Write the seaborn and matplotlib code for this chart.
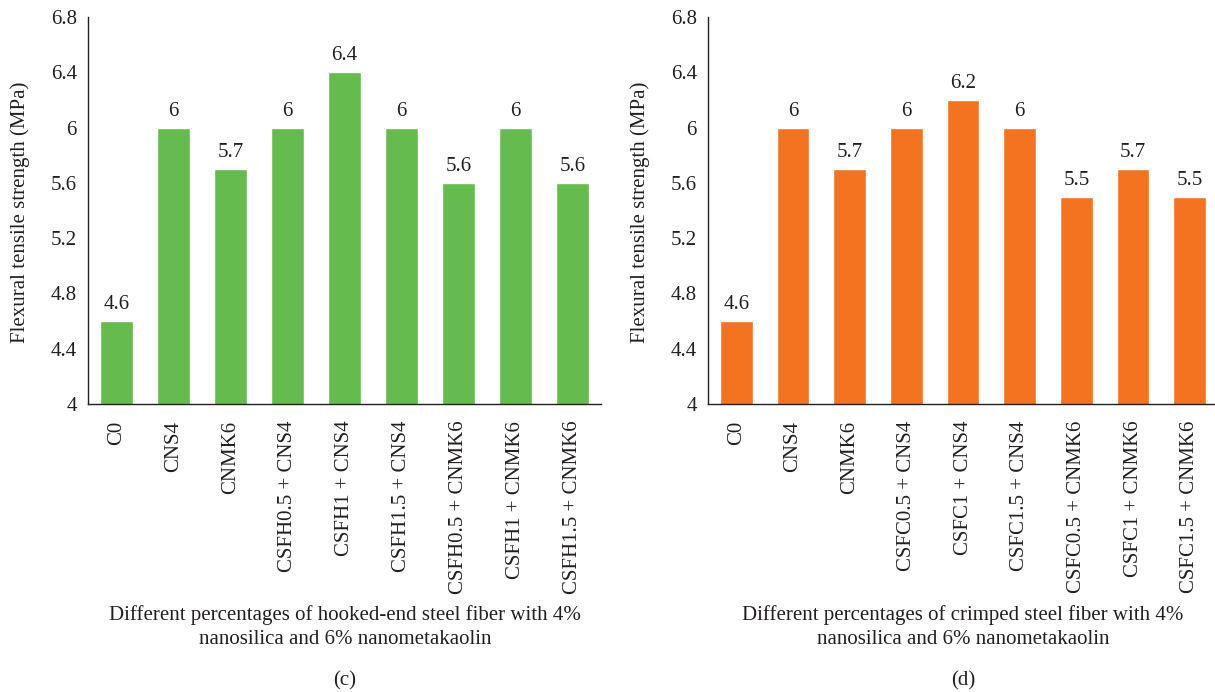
import matplotlib
matplotlib.use("Agg")
import matplotlib.pyplot as plt
import seaborn as sns
import pandas as pd
from matplotlib.ticker import FuncFormatter, FixedLocator

# data
labels_c = ["C0", "CNS4", "CNMK6", "CSFH0.5 + CNS4", "CSFH1 + CNS4", "CSFH1.5 + CNS4",
            "CSFH0.5 + CNMK6", "CSFH1 + CNMK6", "CSFH1.5 + CNMK6"]
values_c = [4.6, 6.0, 5.7, 6.0, 6.4, 6.0, 5.6, 6.0, 5.6]

labels_d = ["C0", "CNS4", "CNMK6", "CSFC0.5 + CNS4", "CSFC1 + CNS4", "CSFC1.5 + CNS4",
            "CSFC0.5 + CNMK6", "CSFC1 + CNMK6", "CSFC1.5 + CNMK6"]
values_d = [4.6, 6.0, 5.7, 6.0, 6.2, 6.0, 5.5, 5.7, 5.5]

yticks = [4, 4.4, 4.8, 5.2, 5.6, 6, 6.4, 6.8]

xlabel_c = "Different percentages of hooked-end steel fiber with 4%\nnanosilica and 6% nanometakaolin"
xlabel_d = "Different percentages of crimped steel fiber with 4%\nnanosilica and 6% nanometakaolin"
ylabel = "Flexural tensile strength (MPa)"

sns.set_style("white")
plt.rcParams["font.family"] = ["Liberation Serif", "DejaVu Serif"]
txt = "#231f20"
fs = 15

fig = plt.figure(figsize=(12.15, 6.92), dpi=100)
ax_c = fig.add_axes([88 / 1215, 1 - 404 / 692, 513 / 1215, 387 / 692])
ax_d = fig.add_axes([708 / 1215, 1 - 404 / 692, 510 / 1215, 387 / 692])

panels = [
    (ax_c, labels_c, values_c, "#66bb4f", xlabel_c, "(c)", 20, 345),
    (ax_d, labels_d, values_d, "#f37321", xlabel_d, "(d)", 640, 963),
]

for ax, labs, vals, col, xl, tag, ylx, cx in panels:
    df = pd.DataFrame({"group": labs, "value": vals})
    sns.barplot(data=df, x="group", y="value", color=col, width=0.58,
                saturation=1, ax=ax)
    ax.set_ylim(4, 6.8)
    ax.set_xlim(-0.5, len(labs) - 0.5)
    ax.yaxis.set_major_locator(FixedLocator(yticks))
    ax.yaxis.set_major_formatter(FuncFormatter(lambda v, p: f"{v:g}"))
    ax.set_xticks(range(len(labs)))
    ax.set_xticklabels(labs, rotation=90, fontsize=fs, color=txt)
    ax.set_xticks([i - 0.5 for i in range(len(labs) + 1)], minor=True)
    ax.tick_params(axis="x", which="major", length=0, pad=12)
    ax.tick_params(axis="x", which="minor", length=5, width=1, color=txt, direction="out")
    ax.tick_params(axis="y", length=5, width=1, color=txt, labelsize=fs,
                   labelcolor=txt, direction="out", pad=3)
    for s in ["top", "right"]:
        ax.spines[s].set_visible(False)
    for s in ["left", "bottom"]:
        ax.spines[s].set_color(txt)
        ax.spines[s].set_linewidth(1)
    ax.set_xlabel("")
    ax.set_ylabel("")
    for c in ax.containers:
        ax.bar_label(c, fmt="%g", padding=5, fontsize=fs, color=txt)
    fig.text(ylx / 1215, 1 - 212 / 692, ylabel, rotation=90, ha="center", va="center",
             fontsize=fs, color=txt)
    fig.text(cx / 1215, 1 - 627 / 692, xl, ha="center", va="center", fontsize=fs,
             color=txt, linespacing=1.3)
    fig.text(cx / 1215, 1 - 681 / 692, tag, ha="center", va="center", fontsize=fs,
             color=txt)

fig.savefig("out.png", dpi=100)
